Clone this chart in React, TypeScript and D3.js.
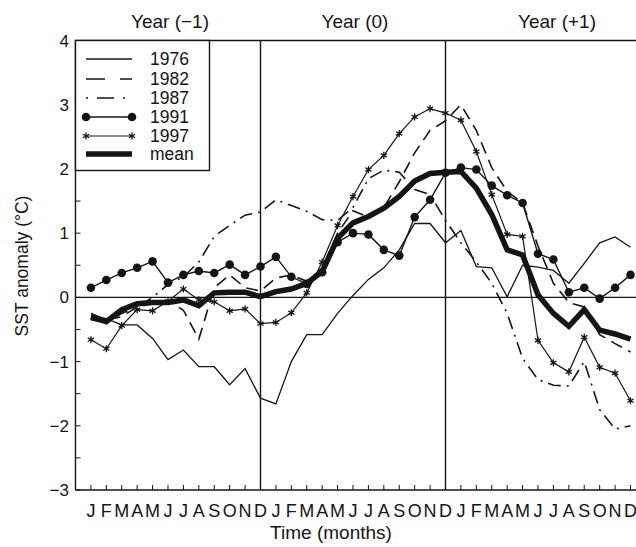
import React from 'react';
import * as d3 from 'd3';

const MONTHS = ['J', 'F', 'M', 'A', 'M', 'J', 'J', 'A', 'S', 'O', 'N', 'D'];
const MONTH_LABELS = [...MONTHS, ...MONTHS, ...MONTHS];
const YEAR_LABELS = ['Year (−1)', 'Year (0)', 'Year (+1)'];
const Y_TICKS = [4, 3, 2, 1, 0, -1, -2, -3];
const Y_MINOR = [3.5, 2.5, 1.5, 0.5, -0.5, -1.5, -2.5];
const SERIES_NAMES = ['1976', '1982', '1987', '1991', '1997', 'mean'];

const v1976 = [-0.28, -0.33, -0.43, -0.43, -0.64, -0.97, -0.82, -1.08, -1.08, -1.36, -1.11, -1.57,
  -1.66, -1.0, -0.58, -0.58, -0.25, 0.03, 0.28, 0.46, 0.74, 1.15, 1.15, 0.85,
  1.04, 0.48, 0.46, 0.01, 0.5, 0.47, 0.42, 0.22, 0.53, 0.85, 0.94, 0.78];
const v1982 = [-0.25, -0.35, -0.3, -0.15, -0.1, -0.05, -0.2, -0.65, 0.15, 0.35, 0.15, 0.1,
  0.3, 0.35, 0.25, 0.45, 1.0, 1.35, 1.25, 1.4, 1.8, 2.25, 2.6, 2.75,
  3.0, 2.6, 2.02, 1.65, 1.47, 0.8, 0.22, -0.08, -0.15, -0.58, -0.72, -0.85];
const v1987 = [-0.35, -0.4, -0.25, -0.15, 0.0, 0.2, 0.32, 0.55, 0.95, 1.12, 1.28, 1.33,
  1.52, 1.43, 1.34, 1.21, 1.2, 1.4, 1.85, 1.98, 1.95, 1.68, 1.6, 1.2,
  0.85, 0.55, 0.22, -0.25, -0.95, -1.28, -1.37, -1.38, -1.0, -1.75, -2.05, -2.0];
const v1991 = [0.15, 0.27, 0.38, 0.46, 0.56, 0.23, 0.35, 0.41, 0.38, 0.51, 0.35, 0.48,
  0.63, 0.32, 0.21, 0.39, 0.86, 1.0, 0.98, 0.74, 0.65, 1.25, 1.52, 1.94,
  2.02, 1.99, 1.74, 1.59, 1.47, 0.68, 0.59, 0.08, 0.15, -0.02, 0.15, 0.35];
const v1997 = [-0.66, -0.8, -0.44, -0.19, -0.21, -0.06, 0.13, -0.04, -0.07, -0.21, -0.18, -0.41,
  -0.39, -0.24, 0.07, 0.55, 1.12, 1.57, 1.99, 2.21, 2.55, 2.81, 2.94, 2.87,
  2.76, 2.27, 1.6, 0.98, 0.95, -0.67, -1.02, -1.16, -0.62, -1.09, -1.18, -1.61];
const vMean = [-0.3, -0.38, -0.19, -0.1, -0.08, -0.08, -0.04, -0.13, 0.07, 0.08, 0.08, 0.01,
  0.09, 0.13, 0.22, 0.4, 0.92, 1.16, 1.26, 1.39, 1.57, 1.81, 1.93, 1.95,
  1.96, 1.7, 1.29, 0.74, 0.66, 0.04, -0.25, -0.45, -0.19, -0.51, -0.57, -0.65];

const W = 636;
const H = 547;
const INK = '#151515';
const FONT = '"Liberation Sans", Arial, Helvetica, sans-serif';

export default function App() {
  const x = d3.scaleLinear().domain([0, 35]).range([90.9, 630.5]);
  const y = d3.scaleLinear().domain([-3, 4]).range([490, 40.5]);
  const left = x(-1);
  const right = 640;
  const top = y(4);
  const bottom = y(-3);

  const line = d3.line<number>().x((_, i) => x(i)).y((d) => y(d));
  const star = d3.symbol(d3.symbolAsterisk, 36)() as string;

  const series = [
    { name: SERIES_NAMES[0], values: v1976, width: 1.3, dash: undefined, legDash: undefined },
    { name: SERIES_NAMES[1], values: v1982, width: 1.6, dash: '12,7', legDash: '19,15' },
    { name: SERIES_NAMES[2], values: v1987, width: 1.6, dash: '13,6,2,6', legDash: '2,9,17,9' },
    { name: SERIES_NAMES[3], values: v1991, width: 1.4, dash: undefined, legDash: undefined },
    { name: SERIES_NAMES[4], values: v1997, width: 1.2, dash: undefined, legDash: undefined },
    { name: SERIES_NAMES[5], values: vMean, width: 5.5, dash: undefined, legDash: undefined },
  ];

  const yearCenters = [170, 355, 557];
  const legY = [59, 79, 98, 117, 136, 154];

  return (
    <svg width={W} height={H} style={{ position: 'absolute', left: 0, top: 0, background: '#fff' }}
      fontFamily={FONT}>
      <rect x={0} y={0} width={W} height={H} fill="#fff" />
      {/* frame */}
      <line x1={left} x2={right} y1={top} y2={top} stroke={INK} strokeWidth={1.4} />
      <line x1={left} x2={right} y1={bottom} y2={bottom} stroke={INK} strokeWidth={1.4} />
      <line x1={left} x2={left} y1={top} y2={bottom} stroke={INK} strokeWidth={1.4} />
      {/* year dividers */}
      {[11, 23].map((m) => (
        <line key={m} x1={x(m)} x2={x(m)} y1={top} y2={bottom} stroke={INK} strokeWidth={1.4} />
      ))}
      {/* zero line */}
      <line x1={left} x2={right} y1={y(0)} y2={y(0)} stroke={INK} strokeWidth={1.4} />
      {/* y ticks */}
      {Y_TICKS.concat(Y_MINOR).map((t) => (
        <line key={'yt' + t} x1={left} x2={left + 5} y1={y(t)} y2={y(t)} stroke={INK} strokeWidth={1} />
      ))}
      {Y_TICKS.map((t) => (
        <text key={'yl' + t} x={69} y={y(t)} dy="0.36em" textAnchor="end" fontSize={17} fill={INK}>
          {t < 0 ? '−' + Math.abs(t) : String(t)}
        </text>
      ))}
      {/* x ticks and labels */}
      {MONTH_LABELS.map((m, i) => (
        <g key={'m' + i}>
          <line x1={x(i)} x2={x(i)} y1={bottom} y2={bottom - 5} stroke={INK} strokeWidth={1} />
          <text x={x(i)} y={517} textAnchor="middle" fontSize={18} fill={INK}>{m}</text>
        </g>
      ))}
      {/* year labels */}
      {YEAR_LABELS.map((lab, i) => (
        <text key={lab} x={yearCenters[i]} y={28} textAnchor="middle" fontSize={19} fill={INK}>{lab}</text>
      ))}
      {/* axis titles */}
      <text x={331} y={539} textAnchor="middle" fontSize={19} fill={INK}>Time (months)</text>
      <text transform={`translate(28,${266}) rotate(-90)`} textAnchor="middle" fontSize={17.5} fill={INK}>
        SST anomaly (°C)
      </text>
      {/* series */}
      {series.map((s) => (
        <path key={s.name} d={line(s.values) as string} fill="none" stroke={INK}
          strokeWidth={s.width} strokeDasharray={s.dash} strokeLinejoin="miter" />
      ))}
      {v1991.map((v, i) => (
        <circle key={'d' + i} cx={x(i)} cy={y(v)} r={4.3} fill={INK} />
      ))}
      {v1997.map((v, i) => (
        <path key={'s' + i} d={star} transform={`translate(${x(i)},${y(v)})`} fill="none" stroke={INK} strokeWidth={1.3} />
      ))}
      {/* legend */}
      <rect x={left} y={top} width={134} height={130} fill="#fff" stroke={INK} strokeWidth={1.4} />
      {series.map((s, i) => (
        <g key={'leg' + s.name}>
          <line x1={86} x2={132} y1={legY[i]} y2={legY[i]} stroke={INK} strokeWidth={s.width}
            strokeDasharray={s.legDash} />
          {s.name === '1991' && [86, 132].map((cx) => <circle key={cx} cx={cx} cy={legY[i]} r={4.3} fill={INK} />)}
          {s.name === '1997' && [86, 132].map((cx) => (
            <path key={cx} d={star} transform={`translate(${cx},${legY[i]})`} fill="none" stroke={INK} strokeWidth={1.3} />
          ))}
          <text x={150} y={legY[i]} dy="0.36em" fontSize={17.5} fill={INK}>{s.name}</text>
        </g>
      ))}
    </svg>
  );
}
